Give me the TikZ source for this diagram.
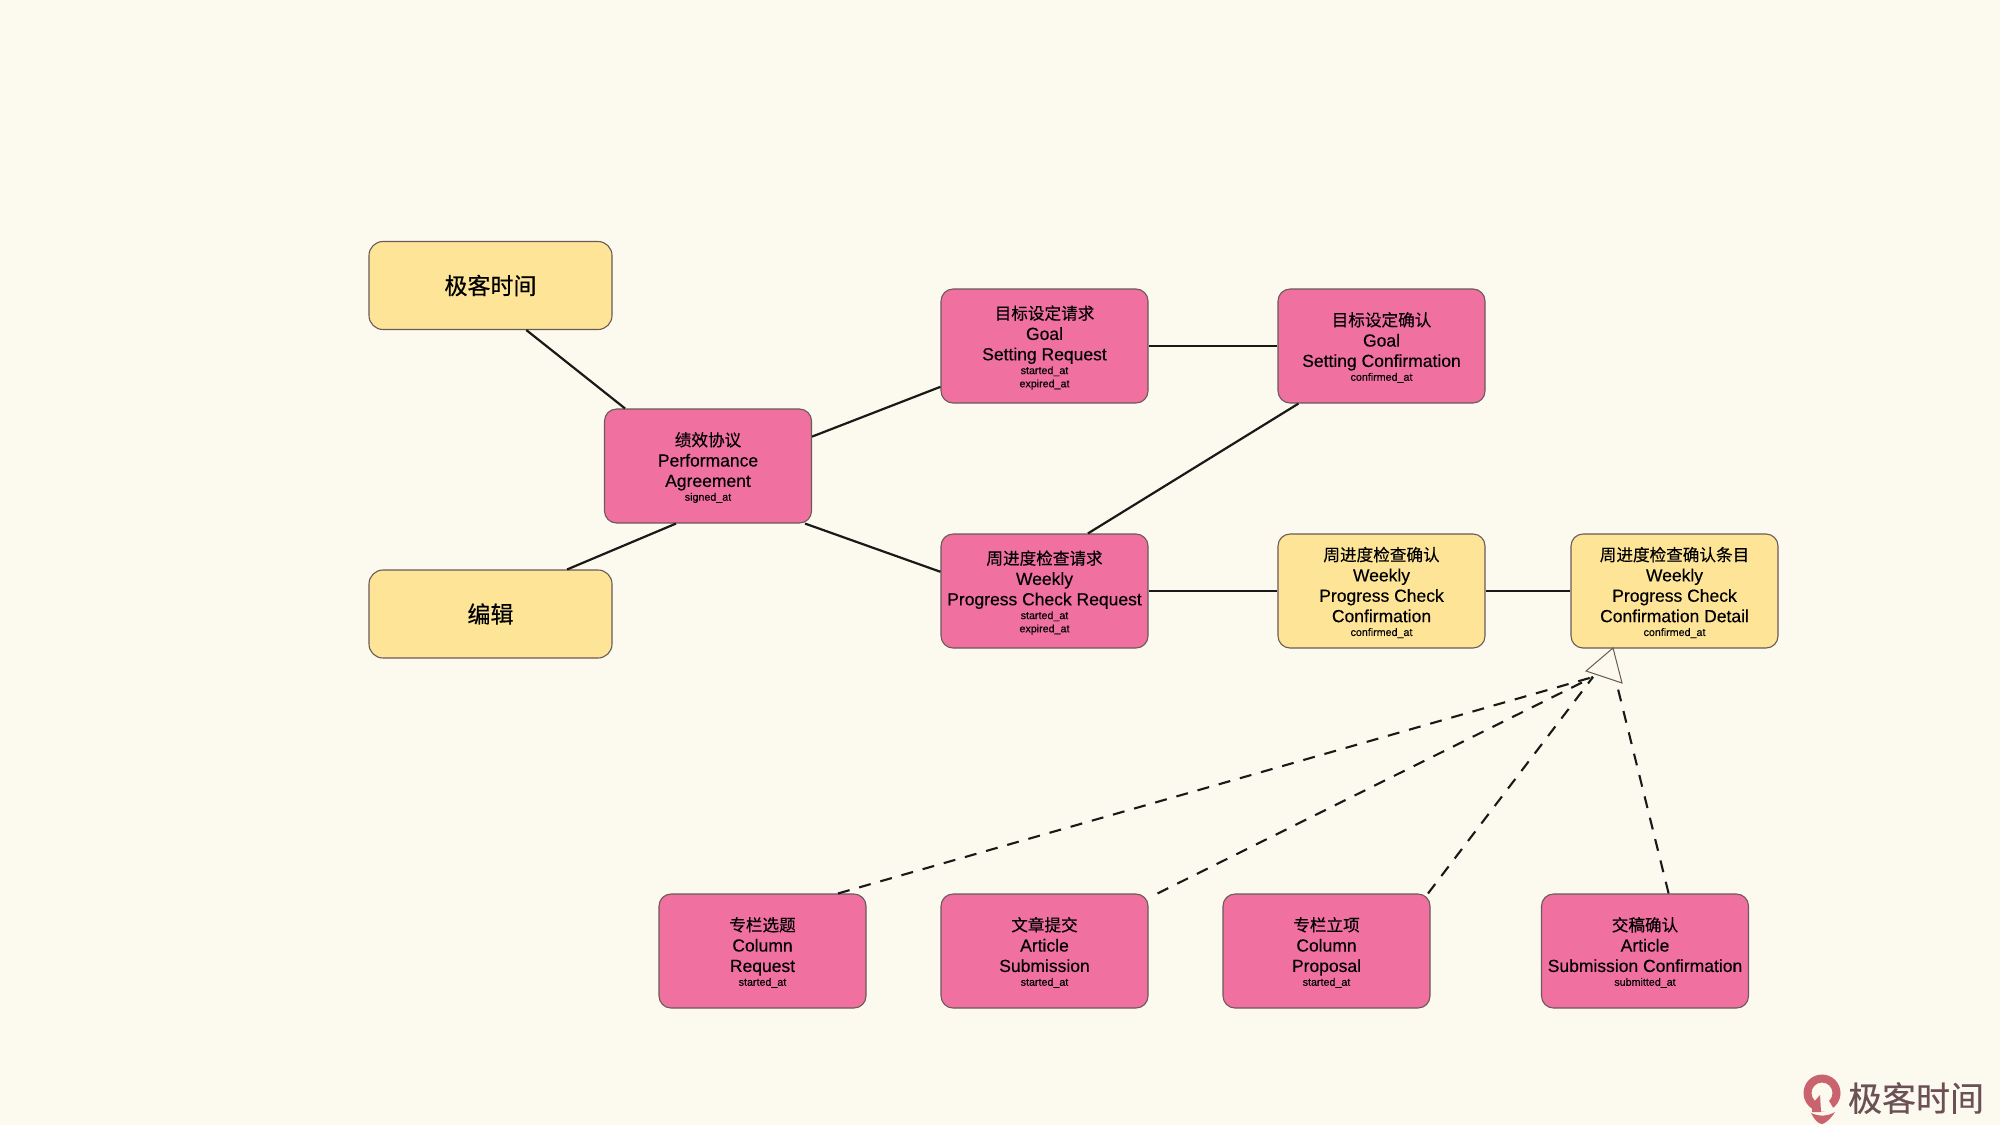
\documentclass[tikz,border=0pt]{standalone}
\usepackage{fontspec}
\setmainfont{Liberation Sans}[FakeBold=0.3]
\newfontfamily\zh{Noto Sans CJK SC}[FakeBold=0.3]
\newfontfamily\zhtitle{Noto Sans CJK SC}[FakeBold=0.6]
\newfontfamily\zhlogo{Noto Sans CJK SC}[FakeBold=0.5]
\definecolor{bgc}{HTML}{FCF9EE}
\definecolor{pinkc}{HTML}{F0709F}
\definecolor{yelc}{HTML}{FDE497}
\definecolor{edgec}{HTML}{6A5A58}
\definecolor{logoc}{HTML}{C9646E}
\definecolor{logot}{HTML}{6B5155}
\newcommand{\cn}[1]{\rule{0pt}{8.5pt}{\zh\fontsize{8.3}{10.2}\selectfont #1}}
\newcommand{\sm}[1]{{\fontsize{5.35}{6}\selectfont #1}}
\tikzset{
  card/.style={draw=edgec,line width=0.55pt,rounded corners=6pt,minimum width=103.5pt,minimum height=57pt,inner sep=0pt,align=center,
    font=\fontsize{8.75}{10.2}\selectfont,text=black},
  pinkcard/.style={card,fill=pinkc},
  yelcard/.style={card,fill=yelc},
  titlecard/.style={card,fill=yelc,minimum width=121.5pt,minimum height=44pt,rounded corners=7pt,font=\zhtitle\fontsize{11.5}{14}\selectfont},
  link/.style={line width=1.1pt,draw=black!90},
  dashlink/.style={line width=1.05pt,draw=black!90,dash pattern=on 6pt off 5pt},
  openhead/.style={draw=edgec,line width=0.5pt,fill=none,line join=miter}
}
\begin{document}
\begin{tikzpicture}[x=0.5pt,y=-0.5pt]
\useasboundingbox[fill=bgc] (0,0) rectangle (2000,1125);
% nodes
\node[titlecard] (geek) at (490.5,285.5) {极客时间};
\node[titlecard] (editor) at (490.5,614) {编辑};
\node[pinkcard] (pa) at (708,466) {\cn{绩效协议}\\Performance\\Agreement\\[-3.3pt]\sm{signed\_at}};
\node[pinkcard] (gr) at (1044.5,346) {\cn{目标设定请求}\\Goal\\Setting Request\\[-3.3pt]\sm{started\_at}\\[-3.6pt]\sm{expired\_at}};
\node[pinkcard] (gc) at (1381.5,346) {\cn{目标设定确认}\\Goal\\Setting Confirmation\\[-3.3pt]\sm{confirmed\_at}};
\node[pinkcard] (wr) at (1044.5,591) {\cn{周进度检查请求}\\Weekly\\Progress Check Request\\[-3.3pt]\sm{started\_at}\\[-3.6pt]\sm{expired\_at}};
\node[yelcard] (wc) at (1381.5,591) {\cn{周进度检查确认}\\Weekly\\Progress Check\\Confirmation\\[-3.3pt]\sm{confirmed\_at}};
\node[yelcard] (wd) at (1674.5,591) {\cn{周进度检查确认条目}\\Weekly\\Progress Check\\Confirmation Detail\\[-3.3pt]\sm{confirmed\_at}};
\node[pinkcard] (cr) at (762.5,951) {\cn{专栏选题}\\Column\\Request\\[-3.3pt]\sm{started\_at}};
\node[pinkcard] (as) at (1044.5,951) {\cn{文章提交}\\Article\\Submission\\[-3.3pt]\sm{started\_at}};
\node[pinkcard] (cp) at (1326.5,951) {\cn{专栏立项}\\Column\\Proposal\\[-3.3pt]\sm{started\_at}};
\node[pinkcard] (sc) at (1645,951) {\cn{交稿确认}\\Article\\Submission Confirmation\\[-3.3pt]\sm{submitted\_at}};
% solid connectors
\draw[link] ([xshift=17.9pt]geek.south) -- ([xshift=-41.5pt]pa.north);
\draw[link] ([xshift=38.3pt]editor.north) -- ([xshift=-16pt]pa.south);
\draw[link] ([yshift=14.7pt]pa.east) -- ([yshift=-20.4pt]gr.west);
\draw[link] ([xshift=48.5pt]pa.south) -- ([yshift=9.6pt]wr.west);
\draw[link] (gr) -- (gc);
\draw[link] (wr) -- (wc);
\draw[link] (wc) -- (wd);
\draw[link] ([xshift=21.7pt]wr.north) -- ([xshift=-41.5pt]gc.south);
% inheritance head
\coordinate (tip) at (1613,648);
\coordinate (hl) at (1586,671);
\coordinate (hr) at (1622,683);
\coordinate (hm) at (1593,677);
\coordinate (hn) at (1617,685);
\draw[openhead] (tip) -- (hl) -- (hr) -- cycle;
\draw[dashlink] ([xshift=37.75pt]cr.north) -- (hm);
\draw[dashlink] ([xshift=56.5pt]as.north) -- (hm);
\draw[dashlink] ([xshift=50.75pt]cp.north) -- (hm);
\draw[dashlink] ([xshift=11.8pt]sc.north) -- (hn);
% logo
\fill[logoc,even odd rule] (1822,1093) circle (18.5) (1822,1093) circle (10.5);
\fill[bgc] (1820,1093) -- (1813,1110) -- (1836,1113) -- (1829,1101) -- cycle;
\fill[logoc] (1820,1095) -- (1812,1104) -- (1812,1112) -- (1821,1112) -- cycle;
\fill[logoc] (1811,1113) .. controls (1820,1117) and (1828,1116) .. (1835,1112) .. controls (1830,1120) and (1824,1124) .. (1822,1124) .. controls (1818,1124) and (1814,1119) .. (1811,1113) -- cycle;
\node[inner sep=0pt,text=logot,font=\zhlogo\fontsize{17}{20}\selectfont] (logotext) at (1916,1098) {极客时间};
\end{tikzpicture}
\end{document}
